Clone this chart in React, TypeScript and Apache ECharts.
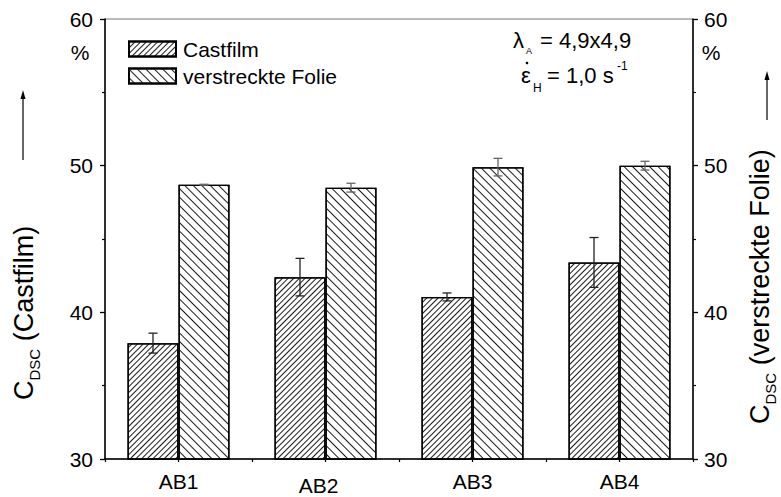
import React, { useEffect, useRef } from 'react';
import * as echarts from 'echarts';

const categories = ['AB1', 'AB2', 'AB3', 'AB4'];
const castfilm = [37.9, 42.4, 41.05, 43.4];
const castfilmErr = [0.68, 1.28, 0.27, 1.7];
const folie = [48.7, 48.5, 49.9, 50.0];
const folieErr = [0.03, 0.3, 0.6, 0.3];
const yMin = 30;
const yMax = 60;
const yInterval = 10;

const FONT = '"Liberation Sans", Arial, Helvetica, sans-serif';
const BAR_W = 51;

function errSeries(name: string, vals: number[], errs: number[], offset: number, color: string) {
  return {
    type: 'custom',
    name,
    silent: true,
    z: 5,
    data: vals.map((v, i) => [i, v, errs[i]]),
    encode: { x: 0, y: 1 },
    renderItem: (_p: any, api: any) => {
      const i = api.value(0);
      const v = api.value(1);
      const e = api.value(2);
      const top = api.coord([i, v + e]);
      const bot = api.coord([i, v - e]);
      const x = top[0] + offset;
      const cap = 4.5;
      const st = { stroke: color, lineWidth: 1.3 };
      return {
        type: 'group',
        children: [
          { type: 'line', shape: { x1: x, y1: top[1], x2: x, y2: bot[1] }, style: st },
          { type: 'line', shape: { x1: x - cap, y1: top[1], x2: x + cap, y2: top[1] }, style: st },
          { type: 'line', shape: { x1: x - cap, y1: bot[1], x2: x + cap, y2: bot[1] }, style: st },
        ],
      };
    },
  };
}

export default function App() {
  const ref = useRef<HTMLDivElement>(null);
  useEffect(() => {
    const chart = echarts.init(ref.current!, null, { renderer: 'svg' });
    const yAxisBase = {
      type: 'value',
      min: yMin,
      max: yMax,
      interval: yInterval,
      axisLine: { show: true, lineStyle: { color: '#000', width: 1.5 } },
      axisTick: { show: true, length: 5, lineStyle: { color: '#000', width: 1.3 } },
      minorTick: { show: true, splitNumber: 2, length: 3, lineStyle: { color: '#000', width: 1.2 } },
      splitLine: { show: false },
    };
    const labelBase = { fontSize: 21, color: '#000', fontFamily: FONT };
    const sub = { fontSize: 15, fontFamily: FONT, fill: '#000', verticalAlign: 'bottom', lineHeight: 15 };
    const main = { fontSize: 27, fontFamily: FONT, fill: '#000', lineHeight: 36 };
    chart.setOption({
      animation: false,
      backgroundColor: '#fff',
      grid: { left: 105, right: 88, top: 19, bottom: 38, show: true, borderColor: '#777', borderWidth: 1 },
      legend: {
        data: ['Castfilm', 'verstreckte Folie'],
        orient: 'vertical',
        left: 123,
        top: 32,
        itemWidth: 47,
        itemHeight: 15,
        itemGap: 3,
        icon: 'rect',
        textStyle: { fontSize: 21, lineHeight: 24, color: '#000', fontFamily: FONT, padding: [0, 0, 0, 2] },
      },
      xAxis: [
        {
          type: 'category',
          data: categories,
          position: 'bottom',
          axisLine: { show: true, lineStyle: { color: '#000', width: 1.5 } },
          axisTick: { show: true, alignWithLabel: true, length: 3, lineStyle: { color: '#000', width: 1.2 } },
          axisLabel: {
            ...labelBase,
            margin: 12,
            formatter: (v: string) => (v === 'AB2' ? '{o|' + v + '}' : v),
            rich: { o: { fontSize: 21, fontFamily: FONT, color: '#000', padding: [4, 14, 0, 0] } },
          },
        },
        {
          type: 'category',
          data: categories,
          position: 'bottom',
          axisLine: { show: false },
          axisTick: { show: true, interval: 0, length: 3, lineStyle: { color: '#000', width: 1.2 } },
          axisLabel: { show: false },
        },
      ],
      yAxis: [
        { ...yAxisBase, position: 'left', axisLabel: { ...labelBase, margin: 12 } },
        { ...yAxisBase, position: 'right', axisLabel: { ...labelBase, margin: 11 } },
      ],
      series: [
        {
          type: 'bar',
          name: 'Castfilm',
          data: castfilm,
          barWidth: BAR_W,
          barGap: '0%',
          itemStyle: {
            color: '#fff',
            borderColor: '#000',
            borderWidth: 1.3,
            decal: { symbol: 'rect', symbolSize: 1, color: '#1a1a1a', dashArrayX: [1, 0], dashArrayY: [1, 2.6], rotation: -Math.PI / 4 },
          },
        },
        {
          type: 'bar',
          name: 'verstreckte Folie',
          data: folie,
          barWidth: BAR_W,
          barGap: '0%',
          itemStyle: {
            color: '#fff',
            borderColor: '#000',
            borderWidth: 1.3,
            decal: { symbol: 'rect', symbolSize: 1, color: '#1a1a1a', dashArrayX: [1, 0], dashArrayY: [1, 4.4], rotation: Math.PI / 4 },
          },
        },
        errSeries('errC', castfilm, castfilmErr, -BAR_W / 2, '#222'),
        errSeries('errF', folie, folieErr, BAR_W / 2, '#666'),
      ],
      graphic: [
        { type: 'text', x: 80, y: 52, style: { text: '%', fontSize: 21, fontFamily: FONT, fill: '#000', align: 'center', verticalAlign: 'middle' } },
        { type: 'text', x: 711, y: 52, style: { text: '%', fontSize: 21, fontFamily: FONT, fill: '#000', align: 'center', verticalAlign: 'middle' } },
        { type: 'text', x: 513, y: 40, style: { text: 'λ', fontSize: 22, fontFamily: FONT, fill: '#000', align: 'left', verticalAlign: 'middle' } },
        { type: 'text', x: 526, y: 51, style: { text: 'A', fontSize: 9, fontFamily: FONT, fill: '#000', align: 'left', verticalAlign: 'middle' } },
        { type: 'text', x: 540, y: 40, style: { text: '= 4,9x4,9', fontSize: 22, fontFamily: FONT, fill: '#000', align: 'left', verticalAlign: 'middle' } },
        { type: 'text', x: 521, y: 75, style: { text: 'ε', fontSize: 22, fontFamily: FONT, fill: '#000', align: 'left', verticalAlign: 'middle' } },
        { type: 'circle', shape: { cx: 527, cy: 63, r: 1.3 }, style: { fill: '#000' } },
        { type: 'text', x: 533, y: 88, style: { text: 'H', fontSize: 12, fontFamily: FONT, fill: '#000', align: 'left', verticalAlign: 'middle' } },
        { type: 'text', x: 547, y: 75, style: { text: '= 1,0 s', fontSize: 22, fontFamily: FONT, fill: '#000', align: 'left', verticalAlign: 'middle' } },
        { type: 'text', x: 617, y: 66, style: { text: '-1', fontSize: 12, fontFamily: FONT, fill: '#000', align: 'left', verticalAlign: 'middle' } },
        {
          type: 'text', x: 24, y: 400, rotation: Math.PI / 2,
          style: { text: '{m|C}{s|DSC}{m| (Castfilm)}', rich: { m: main, s: sub }, align: 'left', verticalAlign: 'middle', fill: '#000' },
        },
        {
          type: 'text', x: 760, y: 424, rotation: Math.PI / 2,
          style: { text: '{m|C}{s|DSC}{m| (verstreckte Folie)}', rich: { m: main, s: sub }, align: 'left', verticalAlign: 'middle', fill: '#000' },
        },
        { type: 'line', shape: { x1: 23, y1: 160, x2: 23, y2: 97 }, style: { stroke: '#000', lineWidth: 1.2 } },
        { type: 'polygon', shape: { points: [[23, 90], [20.5, 99], [25.5, 99]] }, style: { fill: '#000' } },
        { type: 'line', shape: { x1: 767, y1: 120, x2: 767, y2: 78 }, style: { stroke: '#000', lineWidth: 1.2 } },
        { type: 'polygon', shape: { points: [[767, 71], [764.5, 80], [769.5, 80]] }, style: { fill: '#000' } },
      ],
    });
    return () => chart.dispose();
  }, []);
  return <div ref={ref} style={{ width: 781, height: 497, position: 'absolute', left: 0, top: 0 }} />;
}
